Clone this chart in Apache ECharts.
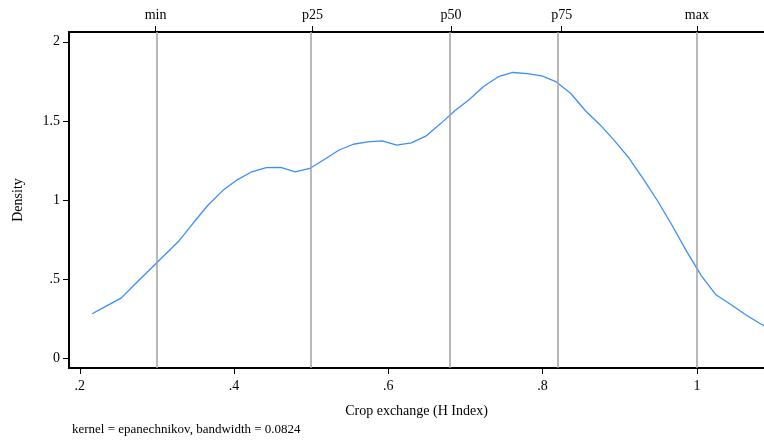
<!DOCTYPE html>
<html>
<head>
<meta charset="utf-8">
<script src="https://cdn.jsdelivr.net/npm/echarts@6/dist/echarts.min.js"></script>
<style>
html,body{margin:0;padding:0;background:#fff;}
#chart{width:764px;height:443px;}
</style>
</head>
<body>
<div id="chart"></div>
<script>
// Evaluation points (H Index) and estimated density
const xValues = [0.2160,0.2348,0.2536,0.2724,0.2912,0.3100,0.3288,0.3476,0.3664,0.3852,
  0.4040,0.4229,0.4417,0.4605,0.4793,0.4981,0.5169,0.5357,0.5545,0.5733,
  0.5921,0.6109,0.6297,0.6486,0.6674,0.6862,0.7050,0.7238,0.7426,0.7614,
  0.7802,0.7990,0.8178,0.8366,0.8555,0.8743,0.8931,0.9119,0.9307,0.9495,
  0.9683,0.9871,1.0059,1.0247,1.0435,1.0623,1.0812,1.1000];
const density = [0.280,0.330,0.379,0.471,0.562,0.652,0.742,0.857,0.968,1.059,
  1.127,1.178,1.204,1.206,1.178,1.199,1.256,1.314,1.352,1.367,
  1.374,1.347,1.361,1.403,1.481,1.564,1.635,1.719,1.779,1.806,
  1.799,1.785,1.746,1.673,1.564,1.476,1.375,1.265,1.132,0.990,
  0.835,0.671,0.520,0.400,0.340,0.277,0.220,0.170];
// Summary statistics marked on top axis
const statNames = ['min','p25','p50','p75','max'];
const statValues = [0.2982,0.5018,0.6812,0.8248,1.0000];
// Tick values
const xTicks = [0.2,0.4,0.6,0.8,1.0];
const yTicks = [0,0.5,1,1.5,2];

const font = 'Liberation Serif';
const fmt = v => {
  let s = String(Math.round(v*100)/100);
  if (s.startsWith('0.')) s = s.slice(1);
  return s;
};

const chart = echarts.init(document.getElementById('chart'), null, {renderer:'canvas'});
chart.setOption({
  animation:false,
  backgroundColor:'#fff',
  grid:{left:69, right:0, top:32, bottom:75, containLabel:false},
  xAxis:[{
    type:'value', position:'bottom', min:0.186, max:1.087,
    name:'Crop exchange (H Index)', nameLocation:'middle', nameGap:36,
    nameTextStyle:{fontFamily:font, fontSize:14, color:'#000'},
    axisLine:{show:true, onZero:false, lineStyle:{color:'#000', width:2}},
    axisTick:{show:true, length:6, customValues:xTicks, lineStyle:{color:'#000', width:1}},
    axisLabel:{customValues:xTicks, formatter:fmt, fontFamily:font, fontSize:14, color:'#000', margin:11},
    splitLine:{show:false}
  },{
    type:'value', position:'top', min:0.186, max:1.087,
    axisLine:{show:true, onZero:false, lineStyle:{color:'#000', width:2}},
    axisTick:{show:true, length:6, customValues:statValues, lineStyle:{color:'#000', width:1}},
    axisLabel:{customValues:statValues, fontFamily:font, fontSize:14, color:'#000', margin:10,
      formatter:v => { const i = statValues.findIndex(s => Math.abs(s-v)<1e-6); return i>=0 ? statNames[i] : ''; }},
    splitLine:{show:false}
  }],
  yAxis:{
    type:'value', min:-0.063, max:2.062,
    name:'Density', nameLocation:'middle', nameGap:44, nameRotate:90,
    nameTextStyle:{fontFamily:font, fontSize:14, color:'#000'},
    axisLine:{show:true, onZero:false, lineStyle:{color:'#000', width:2}},
    axisTick:{show:true, length:6, customValues:yTicks, lineStyle:{color:'#000', width:1}},
    axisLabel:{customValues:yTicks, formatter:fmt, fontFamily:font, fontSize:14, color:'#000', margin:9},
    splitLine:{show:false}
  },
  graphic:[{
    type:'text', left:72, top:423,
    style:{text:'kernel = epanechnikov, bandwidth = 0.0824', fontFamily:font, fontSize:13, fill:'#000'}
  }],
  series:[{
    type:'line', xAxisIndex:0,
    data: xValues.map((x,i)=>[x, density[i]]),
    showSymbol:false, smooth:false, clip:true,
    lineStyle:{color:'#3d8ff5', width:1.3},
    itemStyle:{color:'#3d8ff5'},
    markLine:{
      silent:true, symbol:['none','none'], label:{show:false},
      lineStyle:{color:'#a0a0a0', width:1.5, type:'solid'},
      data: statValues.map(v=>({xAxis:v}))
    },
    z:3
  }]
});
</script>
</body>
</html>
